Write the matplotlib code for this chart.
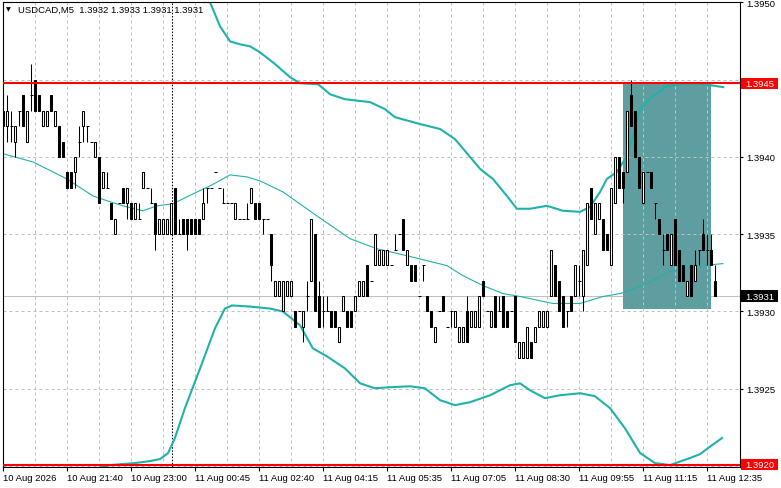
import numpy as np
import matplotlib
matplotlib.use('Agg')
import matplotlib.pyplot as plt
from matplotlib.patches import Rectangle

plt.rcParams['font.family'] = ['Liberation Sans', 'DejaVu Sans']
fs = 6.8

# prices are kept in pips above 1.3900
base = 1.39
pip = 0.0001

opens = [43, 42, 42, 41, 43, 44, 41, 44, 45, 44,
         42, 42, 44, 42, 42, 41, 39, 39, 39, 41,
         42, 42, 41, 40, 40, 38, 38, 37, 35, 37,
         38, 37, 37, 36, 36, 38, 38, 37, 37, 35,
         35, 35, 35, 38, 35, 36, 36, 36, 36, 36,
         36, 38, 38, 39, 38, 37, 37, 37, 36, 36,
         36, 36, 37, 37, 37, 36, 36, 35, 31, 31,
         30, 31, 31, 30, 30, 29, 31, 32, 35, 31,
         30, 30, 30, 30, 28, 30, 30, 30, 30, 31,
         31, 33, 32, 33, 33, 33, 33, 33, 34, 35,
         36, 33, 33, 33, 31, 33, 31, 30, 28, 30,
         31, 29, 30, 29, 28, 28, 30, 29, 29, 29,
         32, 30, 29, 31, 30, 31, 30, 30, 31, 27,
         27, 27, 28, 28, 29, 29, 29, 31, 33, 32,
         31, 30, 31, 31, 32, 31, 33, 38, 35, 36,
         36, 35, 33, 37, 40, 39, 39, 44, 43, 40,
         37, 39, 39, 37, 36, 34, 35, 33, 36, 34,
         33, 31, 33, 32, 34, 35, 34, 34, 32]
highs = [43, 44, 43, 42, 43, 44, 43, 46, 45, 44,
         43, 43, 44, 43, 42, 41, 39, 39, 40, 42,
         43, 42, 41, 41, 40, 39, 39, 37, 36, 37,
         38, 38, 37, 37, 37, 39, 38, 38, 37, 36,
         36, 36, 37, 38, 36, 36, 36, 36, 36, 36,
         38, 38, 38, 39, 38, 38, 37, 37, 37, 36,
         36, 37, 38, 37, 37, 36, 36, 35, 32, 32,
         32, 32, 32, 30, 30, 30, 32, 36, 35, 32,
         31, 31, 30, 30, 29, 31, 30, 30, 31, 32,
         32, 33, 32, 35, 34, 34, 34, 33, 35, 35,
         36, 34, 33, 33, 31, 33, 31, 30, 29, 30,
         31, 29, 30, 30, 29, 29, 31, 30, 30, 31,
         32, 30, 30, 31, 31, 31, 30, 30, 31, 28,
         28, 29, 28, 29, 30, 30, 30, 34, 33, 32,
         31, 30, 31, 33, 33, 34, 37, 38, 37, 37,
         36, 35, 38, 40, 40, 39, 43, 45, 43, 40,
         39, 39, 39, 37, 36, 35, 35, 35, 36, 34,
         33, 32, 33, 34, 34, 36, 35, 35, 33]
lows = [42, 41, 41, 40, 42, 42, 41, 43, 43, 43,
        42, 42, 43, 42, 40, 40, 38, 38, 38, 40,
        41, 41, 41, 40, 37, 38, 38, 36, 35, 37,
        37, 36, 36, 36, 36, 38, 38, 37, 34, 35,
        35, 35, 35, 35, 35, 35, 34, 35, 35, 35,
        36, 37, 38, 39, 38, 37, 37, 37, 36, 36,
        36, 36, 37, 36, 36, 35, 36, 32, 31, 31,
        30, 31, 31, 29, 30, 28, 30, 32, 30, 29,
        29, 30, 29, 29, 28, 30, 29, 29, 30, 31,
        31, 31, 32, 33, 33, 33, 33, 33, 34, 35,
        34, 33, 32, 32, 31, 32, 30, 29, 28, 30,
        30, 29, 29, 29, 28, 28, 28, 29, 29, 29,
        31, 30, 29, 29, 30, 29, 29, 30, 28, 27,
        27, 27, 27, 28, 29, 29, 29, 31, 31, 30,
        29, 29, 30, 31, 31, 30, 33, 36, 35, 36,
        34, 34, 33, 37, 38, 37, 39, 42, 40, 38,
        37, 39, 38, 36, 35, 33, 34, 33, 33, 32,
        32, 31, 31, 32, 33, 34, 33, 33, 31]
closes = [42, 43, 42, 42, 43, 42, 43, 44, 43, 43,
          43, 43, 43, 43, 40, 40, 38, 38, 40, 41,
          43, 42, 41, 41, 37, 39, 38, 36, 36, 37,
          37, 38, 36, 37, 36, 39, 38, 37, 35, 36,
          36, 36, 37, 35, 35, 35, 35, 35, 35, 35,
          37, 38, 38, 39, 38, 37, 37, 37, 37, 36,
          36, 36, 38, 36, 36, 36, 36, 33, 32, 32,
          32, 32, 32, 29, 30, 30, 31, 36, 30, 29,
          30, 30, 29, 29, 29, 31, 29, 29, 31, 32,
          32, 31, 32, 35, 34, 34, 34, 33, 34, 35,
          34, 34, 32, 32, 31, 33, 30, 29, 29, 30,
          30, 29, 30, 30, 29, 29, 28, 30, 30, 31,
          31, 30, 30, 29, 30, 29, 29, 30, 28, 28,
          28, 29, 27, 29, 30, 30, 30, 34, 31, 30,
          29, 30, 30, 33, 32, 34, 37, 36, 37, 37,
          34, 34, 38, 40, 38, 38, 43, 42, 40, 38,
          39, 39, 38, 37, 35, 34, 34, 35, 33, 32,
          32, 32, 31, 33, 34, 34, 34, 33, 31]

# Bollinger bands (bar index, pips)
upper_x = [49, 51.7, 54.2, 56.7, 59.2, 61.7, 64.2, 68, 71.7, 74.2, 78.7, 81.7,
           85.4, 91.7, 95.4, 97.9, 104.2, 109.2, 112.9, 116.7, 119.2, 122.4,
           125.9, 128.4, 131.7, 135.9, 139.9, 144.2, 146.7, 149.2, 150.9,
           153.4, 155.9, 157.4, 159.2, 162.4, 165.9, 169.2, 172.9, 176.7, 180]
upper_y = [50.5, 50.0, 48.45, 47.48, 47.29, 47.16, 46.77, 46.0, 45.16, 44.77,
           44.71, 44.06, 43.74, 43.55, 43.1, 42.58, 42.13, 41.81, 41.16, 40.0,
           39.23, 38.58, 37.48, 36.65, 36.65, 36.84, 36.52, 36.45, 36.77,
           37.74, 38.58, 39.03, 40.06, 41.35, 43.1, 43.94, 44.58, 44.71,
           44.77, 44.65, 44.52]
mid_x = [-0.8, 7.4, 15.9, 22.4, 26.7, 29.9, 34.9, 38.4, 42.4, 47.4, 51.7, 56.7,
         60.9, 64.2, 69.9, 78.4, 86.7, 93.4, 100.9, 110.9, 114.9, 119.9,
         124.9, 129.2, 137.4, 144.2, 149.9, 154.2, 159.9, 166.7, 172.4, 179.9]
mid_y = [40.26, 39.68, 38.58, 37.48, 37.10, 36.84, 36.52, 36.84, 36.97, 37.61,
         38.13, 38.84, 38.71, 38.45, 37.74, 36.19, 34.71, 34.06, 33.61, 32.97,
         32.32, 31.68, 31.16, 30.97, 30.52, 30.52, 30.97, 31.16, 31.68, 32.58,
         32.90, 33.10]
lower_x = [21.7, 26.7, 32.9, 36.7, 39.2, 41.2, 42.9, 45.4, 49.2, 52.9, 55.4,
           57.2, 61.7, 66.7, 69.9, 74.2, 77.4, 80.9, 85.4, 89.2, 92.9, 96.7,
           101.7, 105.4, 109.2, 112.9, 116.7, 121.7, 126.7, 129.2, 131.7,
           135.4, 139.2, 144.2, 147.9, 151.7, 155.4, 159.2, 162.9, 166.7,
           171.7, 174.2, 177.2, 179.7]
lower_y = [19.74, 20.06, 20.19, 20.32, 20.45, 20.84, 21.81, 23.74, 26.32, 28.90,
           30.19, 30.39, 30.32, 30.19, 30.0, 29.10, 27.61, 27.10, 26.32, 25.35,
           25.03, 25.10, 25.16, 25.03, 24.26, 23.94, 24.13, 24.58, 25.23, 25.35,
           24.90, 24.39, 24.58, 24.71, 24.52, 23.74, 22.45, 20.84, 20.19, 20.06,
           20.52, 20.77, 21.35, 21.81]

tick_bars = [0, 16, 32, 48, 64, 80, 96, 112, 128, 144, 160, 176]
tick_labels = ['10 Aug 2026', '10 Aug 21:40', '10 Aug 23:00', '11 Aug 00:45',
               '11 Aug 02:40', '11 Aug 04:15', '11 Aug 05:35', '11 Aug 07:05',
               '11 Aug 08:30', '11 Aug 09:55', '11 Aug 11:15', '11 Aug 12:35']
price_ticks = [20, 25, 30, 35, 40, 45, 50]
hidden_ticks = [20, 45]  # covered by the level boxes

level_high = 44.77
level_low = 20.08
bid = 31
separator_bar = 42.1
box_bars = (154.85, 176.9)
box_prices = (30.16, 44.72)

title = 'USDCAD,M5  1.3932 1.3933 1.3931 1.3931'


def price(v):
    return base + np.asarray(v, dtype=float) * pip


fig = plt.figure(figsize=(7.81, 4.89), dpi=100)
ax = fig.add_axes([3 / 781, 21.3 / 489, 737 / 781, 465 / 489])
ax.set_xlim(-0.075, 184.18)
ax.set_ylim(price(19.955), price(50.05))

for s in ax.spines.values():
    s.set_color('black')
    s.set_linewidth(0.8)

# grid
grid_kw = dict(color='#c0c0c0', lw=0.72, ls=(0, (3, 3)), zorder=1)
for p in price_ticks:
    ax.axhline(price(p), **grid_kw)
for b in range(8, 184, 8):
    ax.axvline(b, **grid_kw)

ax.axhline(price(bid), color='#c0c0c0', lw=0.75, zorder=0.5)

x0, x1 = box_bars
y0, y1 = box_prices
ax.add_patch(Rectangle((x0, price(y0)), x1 - x0, (y1 - y0) * pip,
                       facecolor='#5f9ea0', edgecolor='none', zorder=0.8))

ax.axvline(separator_bar, color='black', lw=0.75, ls=(0, (1.5, 1.5)), zorder=2)

# bands
band = '#20b2aa'
ax.plot(upper_x, price(upper_y), color=band, lw=1.5, zorder=2)
ax.plot(lower_x, price(lower_y), color=band, lw=1.5, zorder=2)
ax.plot(mid_x, price(mid_y), color=band, lw=0.8, zorder=2)

# candles
o = np.array(opens)
h = np.array(highs)
l = np.array(lows)
c = np.array(closes)
idx = np.arange(len(o))
has_range = h > l
up = c > o
dn = c < o
eq = c == o
ax.vlines(idx[has_range], price(l[has_range]), price(h[has_range]),
          color='black', lw=0.75, zorder=3)
ax.bar(idx[up], (c - o)[up] * pip, bottom=price(o[up]), width=0.5,
       facecolor='white', edgecolor='black', lw=0.75, zorder=4)
ax.bar(idx[dn], (o - c)[dn] * pip, bottom=price(c[dn]), width=0.5,
       facecolor='black', edgecolor='black', lw=0.75, zorder=4)
ax.hlines(price(o[eq]), idx[eq] - 0.4, idx[eq] + 0.4, color='black',
          lw=0.75, zorder=4)

# horizontal levels
ax.axhline(price(level_high), color='#ff0000', lw=1.5, zorder=5)
ax.axhline(price(level_low), color='#ff0000', lw=1.5, zorder=5)

# axes ticks
ax.set_xticks(tick_bars)
ax.set_xticklabels(tick_labels, ha='left', fontsize=fs)
ax.tick_params(axis='x', direction='out', length=3, width=0.8, pad=1.5)
ax.yaxis.tick_right()
ax.set_yticks(price(price_ticks))
ax.set_yticklabels(['' if p in hidden_ticks else '%.4f' % price(p)
                    for p in price_ticks], fontsize=fs)
ax.tick_params(axis='y', direction='out', length=2.5, width=0.8, pad=2)

# price boxes on right axis
yt = ax.get_yaxis_transform()
for lvl, col in [(level_high, '#ff0000'), (bid, 'black'), (level_low, '#ff0000')]:
    ax.add_patch(Rectangle((1.0015, price(lvl - 0.36)), 0.0505, 0.72 * pip,
                           transform=yt, facecolor=col, edgecolor='none',
                           clip_on=False, zorder=10))
    ax.text(1.0068, price(lvl), '%.4f' % price(lvl), transform=yt,
            color='white', fontsize=fs, va='center', ha='left',
            clip_on=False, zorder=11)

fig.text(6 / 781, 1 - 10 / 489, '\u25bc', fontsize=4.5, family='DejaVu Sans',
         va='center', ha='left')
fig.text(18 / 781, 1 - 10 / 489, title, fontsize=fs, va='center', ha='left')

fig.savefig('out.png', dpi=100)
